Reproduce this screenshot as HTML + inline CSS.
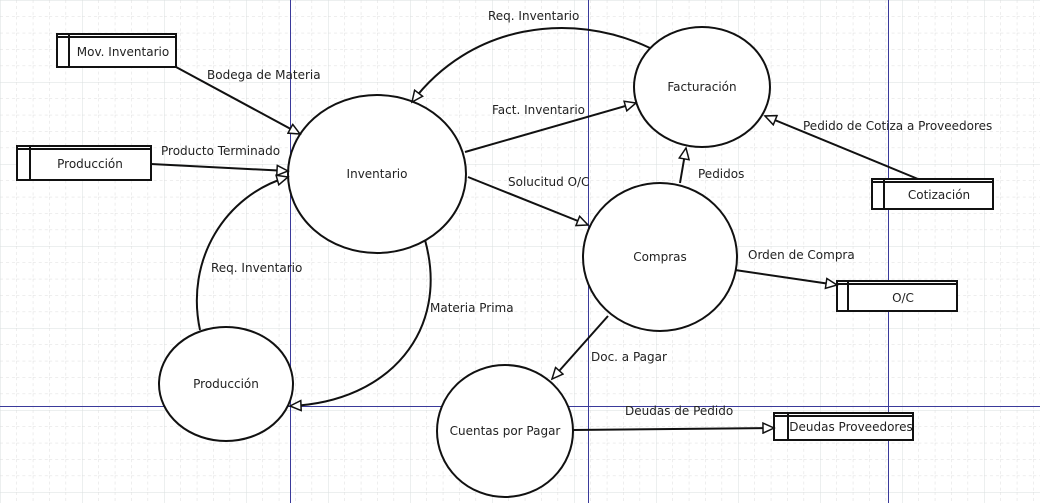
<!DOCTYPE html>
<html><head><meta charset="utf-8"><style>
html,body{margin:0;padding:0;background:#fff;}
svg{display:block;}
text{font-family:"DejaVu Sans","Liberation Sans",sans-serif;font-size:12px;fill:#222;}
</style></head><body>
<svg width="1040" height="503" viewBox="0 0 1040 503" xmlns="http://www.w3.org/2000/svg">
<defs>
<pattern id="minor" width="16.4" height="16.4" patternUnits="userSpaceOnUse" x="0" y="0">
<path d="M0 0V16.4M0 0H16.4" stroke="#dcdcdc" stroke-width="1" stroke-dasharray="3,3" fill="none"/>
</pattern>
<pattern id="major" width="82" height="82" patternUnits="userSpaceOnUse" x="0" y="0">
<path d="M0 0V82M0 0H82" stroke="#dadfdf" stroke-width="1" fill="none"/>
</pattern>
<marker id="a" markerWidth="14" markerHeight="12" refX="12" refY="6" orient="auto" markerUnits="userSpaceOnUse">
<path d="M1,1 L12,6 L1,11 Z" fill="#fff" stroke="#111" stroke-width="1.5"/>
</marker>
</defs>
<rect width="1040" height="503" fill="#fff"/>
<rect width="1040" height="503" fill="url(#minor)"/>
<rect width="1040" height="503" fill="url(#major)"/>
<g stroke="#3a3a9a" stroke-width="1">
<line x1="290.5" y1="0" x2="290.5" y2="503"/>
<line x1="588.5" y1="0" x2="588.5" y2="503"/>
<line x1="888.5" y1="0" x2="888.5" y2="503"/>
<line x1="0" y1="406.5" x2="1040" y2="406.5"/>
</g>
<g fill="#fff" stroke="#111" stroke-width="2">
<ellipse cx="377" cy="174" rx="89" ry="79"/>
<ellipse cx="702" cy="87" rx="68" ry="60"/>
<ellipse cx="660" cy="257" rx="77" ry="74"/>
<ellipse cx="226" cy="384" rx="67" ry="57"/>
<ellipse cx="505" cy="431" rx="68" ry="66"/>
</g>
<g fill="#fff" stroke="#111" stroke-width="2">
<rect x="57" y="34" width="119" height="33"/><line x1="69" y1="34" x2="69" y2="67"/><line x1="57" y1="37" x2="176" y2="37"/>
<rect x="17" y="146" width="134" height="34"/><line x1="30" y1="146" x2="30" y2="180"/><line x1="17" y1="149" x2="151" y2="149"/>
<rect x="872" y="179" width="121" height="30"/><line x1="884" y1="179" x2="884" y2="209"/><line x1="872" y1="182" x2="993" y2="182"/>
<rect x="837" y="281" width="120" height="30"/><line x1="848" y1="281" x2="848" y2="311"/><line x1="837" y1="284" x2="957" y2="284"/>
<rect x="774" y="413" width="139" height="27"/><line x1="788" y1="413" x2="788" y2="440"/><line x1="774" y1="416" x2="913" y2="416"/>
</g>
<g fill="none" stroke="#111" stroke-width="2" marker-end="url(#a)">
<line x1="176" y1="67" x2="300" y2="134"/>
<line x1="151" y1="164" x2="288" y2="171"/>
<path d="M200,330 C185,260 225,195 288,177"/>
<path d="M425,240 C450,330 390,402 290,406"/>
<line x1="465" y1="152" x2="636" y2="103"/>
<path d="M650,48 C570,10 470,25 412,102"/>
<line x1="468" y1="177" x2="588" y2="225"/>
<line x1="680" y1="183" x2="686" y2="148"/>
<line x1="918" y1="179" x2="765" y2="116"/>
<line x1="735" y1="270" x2="837" y2="285"/>
<line x1="608" y1="316" x2="552" y2="379"/>
<line x1="573" y1="430" x2="774" y2="428"/>
</g>
<g>
<text x="377" y="178" text-anchor="middle">Inventario</text>
<text x="702" y="91" text-anchor="middle">Facturación</text>
<text x="660" y="261" text-anchor="middle">Compras</text>
<text x="226" y="388" text-anchor="middle">Producción</text>
<text x="505" y="435" text-anchor="middle">Cuentas por Pagar</text>
<text x="123" y="56" text-anchor="middle">Mov. Inventario</text>
<text x="90" y="168" text-anchor="middle">Producción</text>
<text x="939" y="199" text-anchor="middle">Cotización</text>
<text x="903" y="302" text-anchor="middle">O/C</text>
<text x="851" y="431" text-anchor="middle">Deudas Proveedores</text>
<text x="488" y="20">Req. Inventario</text>
<text x="207" y="79">Bodega de Materia</text>
<text x="492" y="114">Fact. Inventario</text>
<text x="161" y="155">Producto Terminado</text>
<text x="508" y="186">Solucitud O/C</text>
<text x="698" y="178">Pedidos</text>
<text x="803" y="130">Pedido de Cotiza a Proveedores</text>
<text x="748" y="259">Orden de Compra</text>
<text x="211" y="272">Req. Inventario</text>
<text x="430" y="312">Materia Prima</text>
<text x="591" y="361">Doc. a Pagar</text>
<text x="625" y="415">Deudas de Pedido</text>
</g>
</svg>
</body></html>
